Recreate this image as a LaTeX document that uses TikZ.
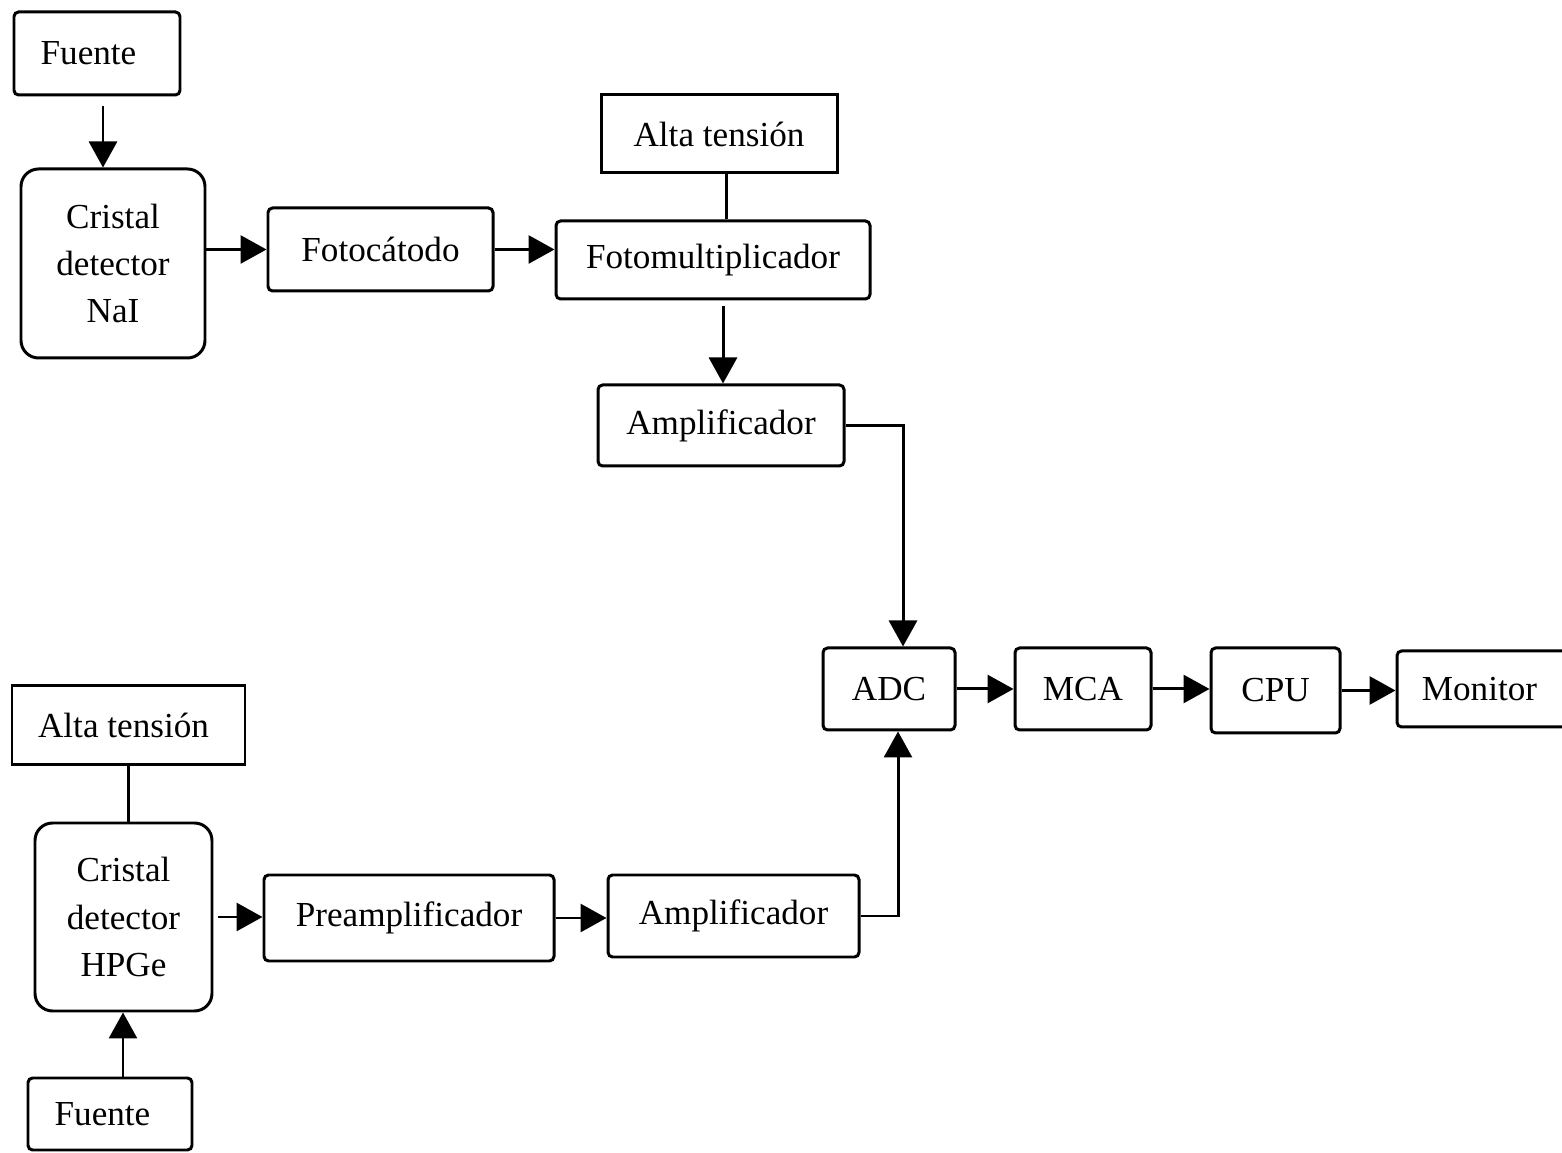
\documentclass[tikz,border=0pt]{standalone}
\usepackage{fontspec}
\setmainfont{Liberation Serif}
\usepackage{tikz}
\usetikzlibrary{arrows.meta}

\begin{document}
\begin{tikzpicture}[
    line width=0.85pt,
    every node/.style={font=\fontsize{10}{13.4}\selectfont},
    box/.style={draw,rounded corners=1.3pt,inner sep=0pt,align=center},
    cbox/.style={draw,rounded corners=5pt,inner sep=0pt,align=center},
    sbox/.style={draw,inner sep=0pt,align=center},
    arr/.style={-{Triangle[length=0.26cm,width=0.28cm]}}
]
    \useasboundingbox (0,0) rectangle (15.62,11.52);

    % NaI branch
    \node[box,minimum width=1.66cm,minimum height=0.83cm] (fuenteA) at (0.97,10.985) {Fuente\hspace{0.17cm}};
    \node[cbox,minimum width=1.84cm,minimum height=1.89cm] (nai) at (1.13,8.885) {Cristal\\detector\\NaI};
    \node[box,minimum width=2.25cm,minimum height=0.83cm] (fotocat) at (3.805,9.025) {Fotocátodo};
    \node[sbox,minimum width=2.36cm,minimum height=0.78cm] (altaA) at (7.19,10.18) {Alta tensión};
    \node[box,minimum width=3.14cm,minimum height=0.78cm] (fotomult) at (7.13,8.92) {Fotomultiplicador};
    \node[box,minimum width=2.46cm,minimum height=0.81cm] (amplA) at (7.21,7.265) {Amplificador};

    % common chain
    \node[box,minimum width=1.32cm,minimum height=0.82cm] (adc) at (8.89,4.63) {ADC};
    \node[box,minimum width=1.36cm,minimum height=0.82cm] (mca) at (10.83,4.63) {MCA};
    \node[box,minimum width=1.29cm,minimum height=0.85cm] (cpu) at (12.755,4.615) {CPU};
    \node[box,minimum width=1.70cm,minimum height=0.76cm] (monitor) at (14.82,4.63) {Monitor\hspace{0.05cm}};

    % HPGe branch
    \node[sbox,minimum width=2.33cm,minimum height=0.79cm] (altaB) at (1.285,4.265) {Alta tensión\hspace{0.1cm}};
    \node[cbox,minimum width=1.77cm,minimum height=1.88cm] (hpge) at (1.235,2.35) {Cristal\\detector\\HPGe};
    \node[box,minimum width=2.9cm,minimum height=0.86cm] (preamp) at (4.09,2.34) {Preamplificador};
    \node[box,minimum width=2.51cm,minimum height=0.82cm] (amplB) at (7.335,2.36) {Amplificador};
    \node[box,minimum width=1.64cm,minimum height=0.72cm] (fuenteB) at (1.10,0.38) {Fuente\hspace{0.15cm}};

    % connectors
    \draw[arr,shorten <=0.1cm] ([xshift=0.06cm]fuenteA.south) -- ([xshift=0.06cm]fuenteA.south |- nai.north);
    \draw[arr] (nai.east |- fotocat.west) -- (fotocat.west);
    \draw[arr] (fotocat.east) -- (fotocat.east -| fotomult.west);
    \draw ([xshift=0.07cm]altaA.south) -- ([xshift=0.07cm]altaA.south |- fotomult.north);
    \draw[arr,shorten <=0.06cm] ([xshift=0.1cm]fotomult.south) -- ([xshift=0.1cm]fotomult.south |- amplA.north);
    \draw[arr] (amplA.east) -| ([xshift=0.14cm]adc.north);

    \draw[arr] (adc.east) -- (adc.east -| mca.west);
    \draw[arr] (mca.east) -- (mca.east -| cpu.west);
    \draw[arr] (cpu.east) -- (cpu.east -| monitor.west);

    \draw (altaB.south) -- (altaB.south |- hpge.north);
    \draw[arr,shorten <=0.05cm] (hpge.east) -- (hpge.east -| preamp.west);
    \draw[arr] (preamp.east) -- (preamp.east -| amplB.west);
    \draw[arr] (amplB.east) -| ([xshift=0.09cm]adc.south);
    \draw[arr] ([xshift=0.13cm]fuenteB.north) -- ([xshift=0.13cm]fuenteB.north |- hpge.south);
\end{tikzpicture}
\end{document}
